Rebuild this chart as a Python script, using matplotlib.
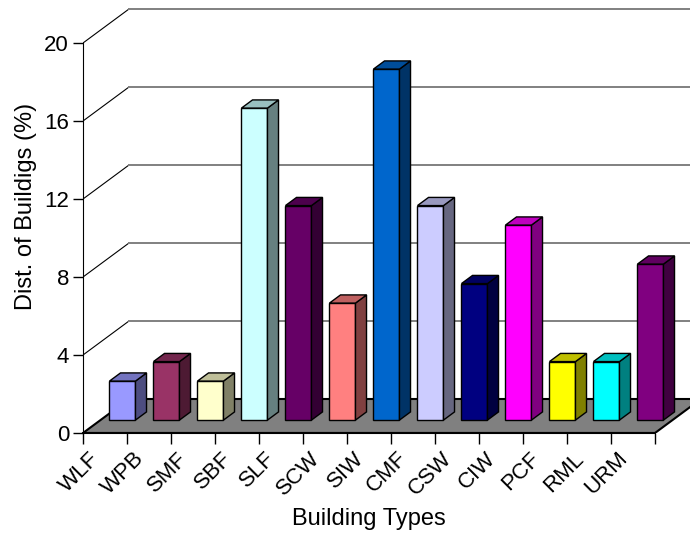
import matplotlib
matplotlib.use("Agg")
import numpy as np
from matplotlib import pyplot as plt
from matplotlib.patches import Polygon
from matplotlib.transforms import ScaledTranslation
from matplotlib.colors import to_rgb

building_types = ["WLF", "WPB", "SMF", "SBF", "SLF", "SCW", "SIW",
                  "CMF", "CSW", "CIW", "PCF", "RML", "URM"]
distribution = [2, 3, 2, 16, 11, 6, 18, 11, 7, 10, 3, 3, 8]
bar_colors = ["#9999FF", "#993366", "#FFFFCC", "#CCFFFF", "#660066", "#FF8080",
              "#0066CC", "#CCCCFF", "#000080", "#FF00FF", "#FFFF00", "#00FFFF",
              "#800080"]
y_ticks = [0, 4, 8, 12, 16, 20]

plt.rcParams['font.family'] = ['Liberation Sans', 'DejaVu Sans']

# pixel geometry of the fake 3d box
px_x = 44.0      # pixels per category
px_y = 19.5      # pixels per percent
depth_dx = 46 / px_x
depth_dy = 34 / px_y
bar_front = 0.38   # fraction of depth where bar front sits
bar_depth = 0.24   # fraction of depth taken by bar
bar_width = 26 / px_x

fig = plt.figure(figsize=(6.9, 5.35), dpi=100)
ax = fig.add_axes([83 / 690, 102 / 535, 607 / 690, 428 / 535])
ax.set_xlim(0, 607 / px_x)
ax.set_ylim(0, 428 / px_y)

n = len(building_types)

# floor
floor = Polygon([(0, 0), (n, 0), (n + depth_dx, depth_dy), (depth_dx, depth_dy)],
                closed=True, facecolor="#808080", edgecolor="black", lw=1.5, zorder=1)
ax.add_patch(floor)

# back wall gridlines
for v in y_ticks[1:]:
    ax.plot([0, depth_dx], [v, v + depth_dy], color="black", lw=0.8, zorder=0.5)
    ax.plot([depth_dx, 30], [v + depth_dy, v + depth_dy], color="#808080", lw=1.4,
            zorder=0.5)

# bars
ox = bar_front * depth_dx
oy = bar_front * depth_dy
sx = bar_depth * depth_dx
sy = bar_depth * depth_dy
centers = np.arange(n) + 0.5 + ox
ax.bar(centers, distribution, width=bar_width, bottom=oy, color=bar_colors,
       edgecolor="black", lw=1, zorder=3)
for c, val, col in zip(centers, distribution, bar_colors):
    r, g, b = to_rgb(col)
    x0 = c - bar_width / 2
    x1 = c + bar_width / 2
    top = oy + val
    side = Polygon([(x1, oy), (x1 + sx, oy + sy), (x1 + sx, top + sy), (x1, top)],
                   closed=True, facecolor=(r * 0.5, g * 0.5, b * 0.5),
                   edgecolor="black", lw=1, zorder=3)
    lid = Polygon([(x0, top), (x1, top), (x1 + sx, top + sy), (x0 + sx, top + sy)],
                  closed=True, facecolor=(r * 0.75, g * 0.75, b * 0.75),
                  edgecolor="black", lw=1, zorder=3)
    ax.add_patch(side)
    ax.add_patch(lid)

# axes styling
for s in ["top", "right"]:
    ax.spines[s].set_visible(False)
ax.spines["left"].set_bounds(0, 20)
ax.spines["bottom"].set_bounds(0, n)
ax.spines["bottom"].set_linewidth(1.5)
ax.spines["bottom"].set_zorder(2)
ax.set_yticks(y_ticks)
ax.set_yticklabels([str(t) for t in y_ticks], fontsize=16)
ax.tick_params(axis="y", length=7, width=1, pad=3)
ax.set_xticks(np.arange(n + 1))
ax.set_xticklabels([])
ax.tick_params(axis="x", length=8, width=1)

offset = ScaledTranslation(-16 / 100, -15 / 100, fig.dpi_scale_trans)
for i, lab in enumerate(building_types):
    ax.text(i + 0.5, 0, lab, fontsize=16, rotation=45, ha="right", va="top",
            rotation_mode="anchor", transform=ax.transData + offset)

ax.set_ylabel("Dist. of Buildigs (%)", fontsize=17)
ax.yaxis.set_label_coords(-46 / 607, 0.53)
fig.text((83 + 655) / 2 / 690, 1 - 519 / 535, "Building Types", fontsize=17,
         ha="center", va="center")

fig.savefig("out.png", dpi=100)
